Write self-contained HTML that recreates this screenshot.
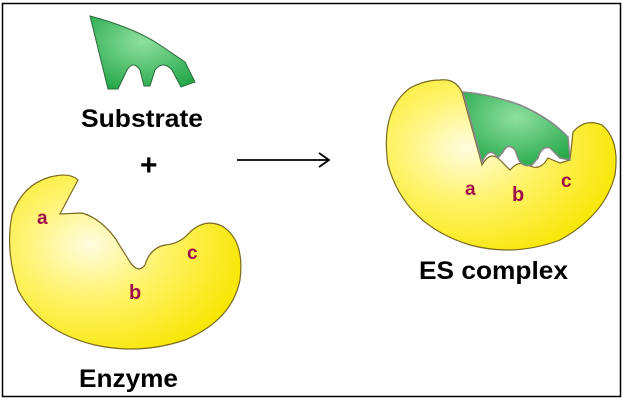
<!DOCTYPE html>
<html><head><style>
html,body{margin:0;padding:0;background:#fff;}
svg{display:block;}
text{font-family:"Liberation Sans",sans-serif;font-weight:bold;}
</style></head><body>
<svg width="628" height="403" viewBox="0 0 628 403">
<defs>
<radialGradient id="y1" cx="0.35" cy="0.4" r="0.7">
<stop offset="0" stop-color="#fffde0"/><stop offset="0.45" stop-color="#fff36a"/><stop offset="1" stop-color="#f7e600"/>
</radialGradient>
<radialGradient id="g1" cx="0.5" cy="0.35" r="0.7">
<stop offset="0" stop-color="#8fe0a0"/><stop offset="1" stop-color="#25a84a"/>
</radialGradient>
</defs>
<rect x="2.5" y="3.5" width="618" height="393" fill="#fff" stroke="#000" stroke-width="1.5"/>
<!-- substrate -->
<path d="M90,16 Q135,28 160,45 L185,62 L195,82 L181,87 L172,70 Q163,60 155,70 L150,86 L144,86 L140,70 Q133,60 127,70 L118,89 L108,89 Z" fill="url(#g1)" stroke="#2d6a3a" stroke-width="1"/>
<text x="81" y="127" font-size="25" textLength="122" lengthAdjust="spacingAndGlyphs">Substrate</text>
<text x="140" y="175" font-size="30">+</text>
<line x1="237" y1="160" x2="328" y2="160" stroke="#000" stroke-width="1.8"/>
<path d="M319,153 L329,160 L319,167" fill="none" stroke="#000" stroke-width="1.8"/>
<!-- enzyme -->
<path d="M78,180 L60,214 L82,213 Q100,218 115,238 L130,262 Q138,274 145,265 Q150,248 165,245 Q180,244 190,232 Q205,218 222,226 Q245,240 240,280 Q232,320 185,340 Q140,355 95,345 Q40,332 18,290 Q5,250 12,215 Q22,185 50,177 Q70,172 78,180 Z" fill="url(#y1)" stroke="#7a6a20" stroke-width="1.2"/>
<text x="37" y="224" font-size="19" fill="#a0104a">a</text>
<text x="129" y="299" font-size="20" fill="#a0104a">b</text>
<text x="187" y="259" font-size="19" fill="#a0104a">c</text>
<text x="79" y="387" font-size="25" textLength="99" lengthAdjust="spacingAndGlyphs">Enzyme</text>
<!-- ES complex -->
<path d="M440,80 Q455,78 462,92 L482,165 Q490,150 500,160 L510,170 Q518,160 528,165 Q540,172 548,158 L560,163 L570,160 L573,132 Q585,118 602,125 Q620,140 615,175 Q605,215 560,240 Q515,257 470,245 Q405,225 388,165 Q380,110 410,88 Q425,80 440,80 Z" fill="url(#y1)" stroke="#7a6a20" stroke-width="1.2"/>
<path d="M463,92 Q490,94 520,105 Q550,118 568,137 L570,160 L560,158 L550,148 Q542,145 538,158 L532,165 Q522,168 518,158 L515,150 Q508,142 503,152 L498,158 Q490,145 482,162 Z" fill="url(#g1)" stroke="#888" stroke-width="1.5"/>
<text x="465" y="195" font-size="19" fill="#a0104a">a</text>
<text x="512" y="201" font-size="20" fill="#a0104a">b</text>
<text x="561" y="187" font-size="19" fill="#a0104a">c</text>
<text x="419" y="279" font-size="25" textLength="149" lengthAdjust="spacingAndGlyphs">ES complex</text>
</svg>
</body></html>
